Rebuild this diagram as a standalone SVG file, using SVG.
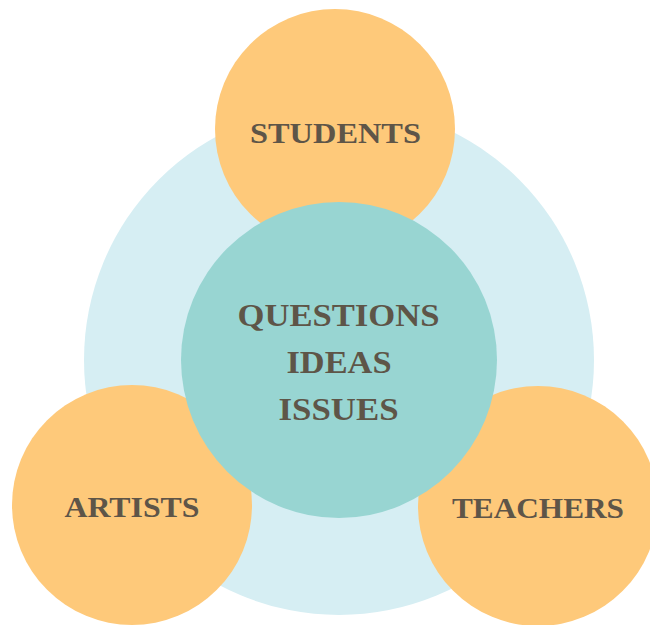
<svg xmlns="http://www.w3.org/2000/svg" width="650" height="625" viewBox="0 0 650 625">
  <style>
    .ring { fill: #d6eef3; }
    .party { fill: #fec97a; }
    .core { fill: #98d5d2; }
    .label { font-family: "Liberation Serif", "Times New Roman", serif; font-weight: bold; fill: #5e5548; text-anchor: middle; }
    .small { font-size: 30px; }
    .big { font-size: 32px; }
  </style>
  <rect width="650" height="625" fill="#ffffff"/>

  <!-- outer backdrop ring -->
  <g id="backdrop">
    <circle class="ring" cx="339" cy="360" r="255"/>
  </g>

  <!-- no connectors in this diagram -->
  <g id="connectors"/>

  <g id="students">
    <circle class="party" cx="335" cy="129" r="120"/>
    <text class="label small" x="335.5" y="142.5" textLength="171" lengthAdjust="spacingAndGlyphs">STUDENTS</text>
  </g>

  <g id="artists">
    <circle class="party" cx="132" cy="505" r="120"/>
    <text class="label small" x="132" y="517" textLength="135" lengthAdjust="spacingAndGlyphs">ARTISTS</text>
  </g>

  <g id="teachers">
    <circle class="party" cx="538" cy="506" r="120"/>
    <text class="label small" x="538" y="518" textLength="172" lengthAdjust="spacingAndGlyphs">TEACHERS</text>
  </g>

  <g id="core">
    <circle class="core" cx="339" cy="360" r="158"/>
    <text class="label big" x="338.5" y="325.5" textLength="202" lengthAdjust="spacingAndGlyphs">QUESTIONS</text>
    <text class="label big" x="339" y="372.5" textLength="105" lengthAdjust="spacingAndGlyphs">IDEAS</text>
    <text class="label big" x="338.5" y="420" textLength="120" lengthAdjust="spacingAndGlyphs">ISSUES</text>
  </g>
</svg>
